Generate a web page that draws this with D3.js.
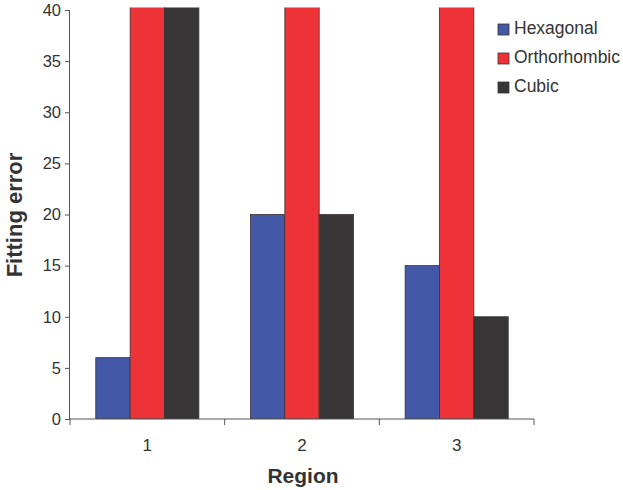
<!DOCTYPE html>
<html>
<head>
<meta charset="utf-8">
<script src="https://cdn.jsdelivr.net/npm/d3@7"></script>
<style>
  body { margin: 0; background: #fff; }
  svg { font-family: "Liberation Sans", Arial, sans-serif; }
</style>
</head>
<body>
<svg id="chart" width="623" height="490"></svg>
<script>
const regions = ['1', '2', '3'];
const seriesNames = ['Hexagonal', 'Orthorhombic', 'Cubic'];
const hexagonal = [6, 20, 15];
const orthorhombic = [45, 45, 45]; // off the top of the axis
const cubic = [45, 20, 10];
const yTicks = [0, 5, 10, 15, 20, 25, 30, 35, 40];

const colors = { Hexagonal: '#4358a6', Orthorhombic: '#ee3338', Cubic: '#383536' };
const seriesValues = { Hexagonal: hexagonal, Orthorhombic: orthorhombic, Cubic: cubic };

const svg = d3.select('#chart');
const plotLeft = 70, plotRight = 534, plotTop = 10, plotBottom = 419;
const axisColor = '#555';

const x = d3.scaleBand().domain(regions).range([plotLeft, plotRight]).padding(0);
const xSub = d3.scaleBand().domain(seriesNames)
  .range([x.bandwidth() / 6, x.bandwidth() * 5 / 6]).padding(0);
const y = d3.scaleLinear().domain([0, 40]).range([plotBottom, plotTop]);

svg.append('defs').append('clipPath').attr('id', 'plotClip')
  .append('rect')
  .attr('x', plotLeft).attr('y', y(40.25))
  .attr('width', plotRight - plotLeft).attr('height', plotBottom - y(40.25));

const rows = regions.map((r, i) => ({ region: r, values: seriesNames.map((s) => ({ s, v: seriesValues[s][i] })) }));

const bars = svg.append('g').attr('clip-path', 'url(#plotClip)');
bars.selectAll('g')
  .data(rows)
  .join('g')
  .attr('transform', (d) => `translate(${x(d.region)},0)`)
  .selectAll('rect')
  .data((d) => d.values)
  .join('rect')
  .attr('x', (d) => xSub(d.s))
  .attr('y', (d) => y(d.v))
  .attr('width', xSub.bandwidth())
  .attr('height', (d) => y(0) - y(d.v))
  .attr('fill', (d) => colors[d.s])
  .attr('stroke', '#3a3535')
  .attr('stroke-width', 0.8);

// y axis
const yAxis = svg.append('g')
  .attr('transform', `translate(${plotLeft},0)`)
  .call(d3.axisLeft(y).tickValues(yTicks).tickSize(5).tickPadding(4));
yAxis.select('.domain').attr('stroke', axisColor).attr('d', `M-0.5,${plotBottom}V${plotTop}`);
yAxis.selectAll('.tick line').attr('stroke', axisColor);
yAxis.selectAll('.tick text').attr('fill', '#333').style('font-size', '16.5px');

// x axis
const xAxis = svg.append('g').attr('transform', `translate(0,${plotBottom})`);
xAxis.append('line')
  .attr('x1', plotLeft).attr('x2', plotRight).attr('y1', 0).attr('y2', 0)
  .attr('stroke', axisColor);
const xEdges = regions.map((r) => x(r)).concat([plotRight]);
xAxis.selectAll('line.tk')
  .data(xEdges)
  .join('line')
  .attr('class', 'tk')
  .attr('x1', (d) => d).attr('x2', (d) => d)
  .attr('y1', 0).attr('y2', 6)
  .attr('stroke', axisColor);
xAxis.selectAll('text')
  .data(regions)
  .join('text')
  .attr('x', (d) => x(d) + x.bandwidth() / 2)
  .attr('y', 32)
  .attr('text-anchor', 'middle')
  .attr('fill', '#333')
  .style('font-size', '17px')
  .text((d) => d);

// axis titles
svg.append('text')
  .attr('x', (plotLeft + plotRight) / 2 + 1)
  .attr('y', 483)
  .attr('text-anchor', 'middle')
  .attr('fill', '#333')
  .style('font-size', '21px')
  .style('font-weight', 'bold')
  .text('Region');

svg.append('text')
  .attr('transform', 'translate(22,215) rotate(-90)')
  .attr('text-anchor', 'middle')
  .attr('fill', '#333')
  .style('font-size', '22px')
  .style('font-weight', 'bold')
  .text('Fitting error');

// legend
const legend = svg.append('g').attr('transform', 'translate(498,23)');
const item = legend.selectAll('g')
  .data(seriesNames)
  .join('g')
  .attr('transform', (d, i) => `translate(0,${i * 29})`);
item.append('rect')
  .attr('y', 1)
  .attr('width', 11).attr('height', 11)
  .attr('fill', (d) => colors[d])
  .attr('stroke', '#3a3535').attr('stroke-width', 0.8);
item.append('text')
  .attr('x', 16).attr('y', 11)
  .attr('fill', '#333')
  .style('font-size', '17.5px')
  .text((d) => d);
</script>
</body>
</html>
